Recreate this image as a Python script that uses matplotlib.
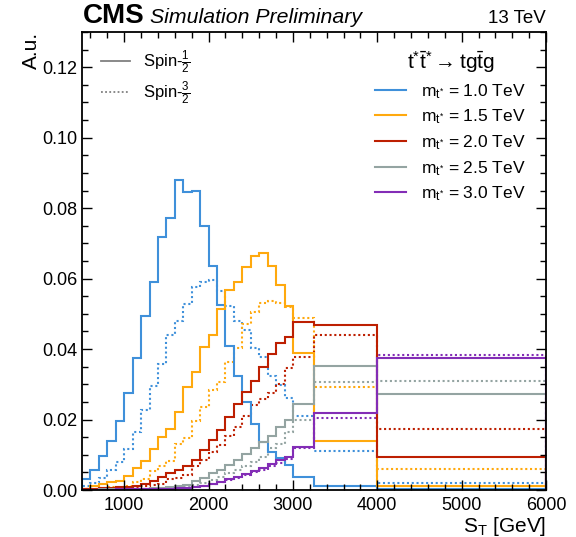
import numpy as np
import matplotlib
matplotlib.use("Agg")
import matplotlib.pyplot as plt
from matplotlib.lines import Line2D
from matplotlib.ticker import MultipleLocator

plt.rcParams['font.family'] = ['Liberation Sans', 'DejaVu Sans']
plt.rcParams['mathtext.fontset'] = 'custom'
plt.rcParams['mathtext.rm'] = 'Liberation Sans'
plt.rcParams['mathtext.it'] = 'Liberation Sans:italic'
plt.rcParams['mathtext.bf'] = 'Liberation Sans:bold'

# bin edges in GeV (100 GeV bins up to 3 TeV, then wide bins)
edges = list(range(500, 3001, 100)) + [3250, 4000, 6000]

masses = ["1.0", "1.5", "2.0", "2.5", "3.0"]
colors = ["#3f90da", "#ffa90e", "#bd1f01", "#94a4a2", "#832db6"]

# spin-1/2 (solid)
spin12_m10 = [0.0032, 0.0058, 0.0096, 0.0139, 0.0196, 0.0274, 0.0376, 0.0493, 0.0590, 0.0718,
              0.0771, 0.0879, 0.0847, 0.0848, 0.0750, 0.0636, 0.0525, 0.0410, 0.0323, 0.0250,
              0.0187, 0.0137, 0.0107, 0.0090, 0.0071, 0.0038, 0.0012, 0.0003]
spin12_m15 = [0.0004, 0.0010, 0.0016, 0.0022, 0.0027, 0.0040, 0.0063, 0.0082, 0.0115, 0.0151,
              0.0174, 0.0222, 0.0291, 0.0335, 0.0405, 0.0439, 0.0515, 0.0567, 0.0590, 0.0633,
              0.0663, 0.0673, 0.0635, 0.0581, 0.0522, 0.0388, 0.0139, 0.0010]
spin12_m20 = [0.0002, 0.0003, 0.0005, 0.0006, 0.0008, 0.0009, 0.0011, 0.0018, 0.0026, 0.0037,
              0.0047, 0.0056, 0.0067, 0.0084, 0.0113, 0.0142, 0.0169, 0.0206, 0.0245, 0.0279,
              0.0309, 0.0350, 0.0387, 0.0418, 0.0433, 0.0476, 0.0469, 0.0094]
spin12_m25 = [0.0001, 0.0001, 0.0002, 0.0002, 0.0002, 0.0003, 0.0003, 0.0004, 0.0005, 0.0006,
              0.0009, 0.0011, 0.0014, 0.0025, 0.0034, 0.0047, 0.0056, 0.0070, 0.0084, 0.0103,
              0.0118, 0.0136, 0.0152, 0.0180, 0.0199, 0.0245, 0.0352, 0.0272]
spin12_m30 = [0.0001, 0.0001, 0.0001, 0.0001, 0.0002, 0.0002, 0.0002, 0.0002, 0.0003, 0.0003,
              0.0004, 0.0006, 0.0007, 0.0009, 0.0012, 0.0018, 0.0024, 0.0030, 0.0038, 0.0046,
              0.0054, 0.0062, 0.0075, 0.0084, 0.0094, 0.0122, 0.0219, 0.0374]

# spin-3/2 (dotted)
spin32_m10 = [0.0010, 0.0019, 0.0035, 0.0057, 0.0079, 0.0117, 0.0164, 0.0228, 0.0296, 0.0357,
              0.0439, 0.0481, 0.0527, 0.0577, 0.0590, 0.0597, 0.0564, 0.0523, 0.0481, 0.0453,
              0.0402, 0.0378, 0.0324, 0.0298, 0.0260, 0.0210, 0.0110, 0.0020]
spin32_m15 = [0.0002, 0.0004, 0.0006, 0.0008, 0.0009, 0.0011, 0.0023, 0.0030, 0.0054, 0.0067,
              0.0081, 0.0130, 0.0149, 0.0196, 0.0235, 0.0285, 0.0307, 0.0362, 0.0404, 0.0472,
              0.0505, 0.0531, 0.0536, 0.0532, 0.0520, 0.0488, 0.0292, 0.0059]
spin32_m20 = [0.0002, 0.0003, 0.0004, 0.0005, 0.0006, 0.0007, 0.0009, 0.0011, 0.0014, 0.0018,
              0.0030, 0.0034, 0.0042, 0.0068, 0.0086, 0.0108, 0.0127, 0.0152, 0.0179, 0.0209,
              0.0240, 0.0258, 0.0274, 0.0302, 0.0345, 0.0378, 0.0441, 0.0172]
spin32_m25 = [0.0001, 0.0001, 0.0001, 0.0002, 0.0002, 0.0002, 0.0003, 0.0003, 0.0004, 0.0005,
              0.0006, 0.0008, 0.0010, 0.0014, 0.0020, 0.0028, 0.0037, 0.0048, 0.0058, 0.0067,
              0.0080, 0.0094, 0.0118, 0.0132, 0.0165, 0.0200, 0.0307, 0.0309]
spin32_m30 = [0.0000, 0.0001, 0.0001, 0.0001, 0.0001, 0.0001, 0.0002, 0.0002, 0.0002, 0.0003,
              0.0003, 0.0005, 0.0006, 0.0008, 0.0010, 0.0016, 0.0022, 0.0028, 0.0035, 0.0043,
              0.0050, 0.0058, 0.0068, 0.0078, 0.0088, 0.0120, 0.0203, 0.0382]

solid = [spin12_m10, spin12_m15, spin12_m20, spin12_m25, spin12_m30]
dotted = [spin32_m10, spin32_m15, spin32_m20, spin32_m25, spin32_m30]

dot_style = (0, (1, 1.3))

fig = plt.figure(figsize=(5.76, 5.37), dpi=100)
ax = fig.add_axes([0.1424, 0.0875, 0.8056, 0.8529])

for vals, c in zip(dotted, colors):
    ax.stairs(vals, edges, color=c, lw=1.5, ls=dot_style)
for vals, c in zip(solid, colors):
    ax.stairs(vals, edges, color=c, lw=1.5)

ax.set_xlim(500, 6000)
ax.set_ylim(0, 0.13)
ax.xaxis.set_major_locator(MultipleLocator(1000))
ax.xaxis.set_minor_locator(MultipleLocator(200))
ax.yaxis.set_major_locator(MultipleLocator(0.02))
ax.yaxis.set_minor_locator(MultipleLocator(0.005))
ax.yaxis.set_major_formatter(matplotlib.ticker.FormatStrFormatter('%.2f'))
ax.tick_params(which='both', direction='in', top=True, right=True, labelsize=13)
ax.tick_params(which='major', length=7.2, width=1)
ax.tick_params(which='minor', length=4, width=1)
ax.tick_params(axis='x', pad=5)
for s in ax.spines.values():
    s.set_linewidth(1.3)

ax.set_xlabel(r"$\mathrm{S_T}$ [GeV]", fontsize=15, loc='right', labelpad=1)
ax.set_ylabel("A.u.", fontsize=15, loc='top', labelpad=1)

ax.text(0.002, 1.02, "CMS", transform=ax.transAxes, fontsize=20, fontweight='bold',
        ha='left', va='baseline')
ax.text(0.1466, 1.02, "Simulation Preliminary", transform=ax.transAxes, fontsize=15.3,
        style='italic', ha='left', va='baseline')
ax.text(1.0, 1.02, "13 TeV", transform=ax.transAxes, fontsize=13.5, ha='right', va='baseline')

spin_handles = [Line2D([], [], color='gray', lw=1.3),
                Line2D([], [], color='gray', lw=1.3, ls=dot_style)]
leg1 = ax.legend(spin_handles, [r"Spin-$\frac{1}{2}$", r"Spin-$\frac{3}{2}$"],
                 loc='upper left', frameon=False, fontsize=12, handlelength=1.7,
                 labelspacing=0.25, bbox_to_anchor=(0.009, 0.997))
ax.add_artist(leg1)

mass_handles = [Line2D([], [], color=c, lw=1.5) for c in colors]
mass_labels = [r"$\mathrm{m_{t^{*}}}$ = " + m + " TeV" for m in masses]
leg2 = ax.legend(mass_handles, mass_labels, loc='upper right', frameon=False, fontsize=12.5,
                 title=r"$\mathrm{t^{*}\bar{t}^{*} \rightarrow tg\bar{t}g}$",
                 title_fontsize=15, handlelength=1.75, handletextpad=0.9,
                 labelspacing=0.4, bbox_to_anchor=(0.991, 0.997))

fig.savefig("out.png", dpi=100)
